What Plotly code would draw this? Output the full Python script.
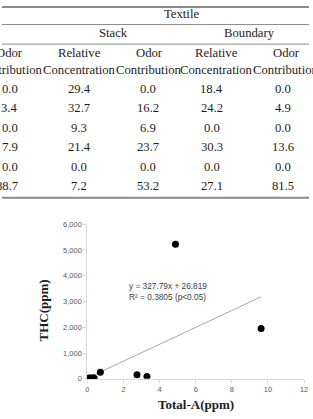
import plotly.graph_objects as go

W, H = 313, 419

# ---------------- data ----------------
# Table (cropped) : rows of values for each visible column
col_odor0 = [0.0, 3.4, 0.0, 7.9, 0.0, 88.7]
stack_rel = [29.4, 32.7, 9.3, 21.4, 0.0, 7.2]
stack_odor = [0.0, 16.2, 6.9, 23.7, 0.0, 53.2]
bound_rel = [18.4, 24.2, 0.0, 30.3, 0.0, 27.1]
bound_odor = [0.0, 4.9, 0.0, 13.6, 0.0, 81.5]
group_label = "Textile"
sub_labels = ["Stack", "Boundary"]
col_head_top = ["Odor", "Relative", "Odor", "Relative", "Odor"]
col_head_bot = ["Contribution", "Concentration", "Contribution", "Concentration", "Contribution"]

# Scatter
total_a = [0.02, 0.06, 0.10, 0.14, 0.19, 0.25, 0.32, 0.38, 0.72, 2.75, 3.30, 4.88, 9.62]
thc = [10, 25, 15, 30, 20, 12, 35, 25, 250, 160, 90, 5220, 1950]
slope, intercept = 327.79, 26.819
eq_text = "y = 327.79x + 26.819"
r2_text = "R² = 0.3805 (p&lt;0.05)"
x_ticks = [0, 2, 4, 6, 8, 10, 12]
y_ticks = [0, 1000, 2000, 3000, 4000, 5000, 6000]


def px(x):
    return x / W


def py(y):
    return 1 - y / H


fig = go.Figure()

fig.add_trace(go.Scatter(
    x=[min(total_a), max(total_a)],
    y=[slope * min(total_a) + intercept, slope * max(total_a) + intercept],
    mode="lines", line=dict(color="#a6a6a6", width=1), showlegend=False,
    hoverinfo="skip"))
fig.add_trace(go.Scatter(
    x=total_a, y=thc, mode="markers",
    marker=dict(color="black", size=7), showlegend=False))

serif = "Liberation Serif, Times New Roman, serif"
sans = "Liberation Sans, Arial, sans-serif"
tcol = "#1e1e1e"
ann = []


def txt(x, y, s, size=12.7, font=serif, color=tcol, xanchor="center"):
    ann.append(dict(x=px(x), y=py(y), xref="paper", yref="paper", text=s,
                    showarrow=False, xanchor=xanchor, yanchor="middle",
                    font=dict(family=font, size=size, color=color)))


# table headers (serif text drawn ~2px higher to compensate baseline)
dy = -2
txt(183, 12.5 + dy, group_label)
txt(114, 31.5 + dy, sub_labels[0])
txt(252, 31.5 + dy, sub_labels[1])
head_x = [8, 79, 150, 219, 290]
for hx, a, b in zip(head_x, col_head_top, col_head_bot):
    txt(hx, 52 + dy, a)
    txt(hx, 69.5 + dy, b)

val_x = [79, 149, 214, 286]
for i in range(len(col_odor0)):
    yy = 88.5 + 20 * i + dy
    txt(18, yy, f"{col_odor0[i]:.1f}", xanchor="right")
    for cx, col in zip(val_x, [stack_rel, stack_odor, bound_rel, bound_odor]):
        txt(cx, yy, f"{col[i]:.1f}")

# regression text
txt(127, 288, eq_text, size=8.3, font=sans, color="#404040", xanchor="left")
txt(127, 299.5, r2_text, size=8.3, font=sans, color="#404040", xanchor="left")

# axis titles
txt(198, 409, "<b>Total-A(ppm)</b>", size=13)
ann.append(dict(x=px(42), y=py(313), xref="paper", yref="paper",
                text="<b>THC(ppm)</b>", showarrow=False, textangle=-90,
                xanchor="center", yanchor="middle",
                font=dict(family=serif, size=13, color=tcol)))

shapes = []
for yl, wdt in [(3, 2), (21, 1), (41, 1), (198, 2)]:
    shapes.append(dict(type="line", xref="paper", yref="paper", x0=0, x1=1,
                       y0=py(yl), y1=py(yl), line=dict(color="#8a8a8a", width=wdt)))

fig.update_layout(
    width=W, height=H, margin=dict(l=0, r=0, t=0, b=0),
    paper_bgcolor="white", plot_bgcolor="white",
    annotations=ann, shapes=shapes,
    xaxis=dict(domain=[px(87), px(308)], range=[0, 12], tickvals=x_ticks,
               showgrid=False, zeroline=False, showline=True,
               linecolor="#d9d9d9", linewidth=1, ticks="outside", ticklen=3,
               tickcolor="#d9d9d9",
               tickfont=dict(family=sans, size=7.5, color="#595959")),
    yaxis=dict(domain=[py(383), py(225)], range=[0, 6000], tickvals=y_ticks,
               tickformat=",", showgrid=False, zeroline=False, showline=True,
               linecolor="#d9d9d9", linewidth=1, ticks="outside", ticklen=3,
               tickcolor="#d9d9d9",
               tickfont=dict(family=sans, size=7.5, color="#595959")),
)

fig.write_html("out.html")
